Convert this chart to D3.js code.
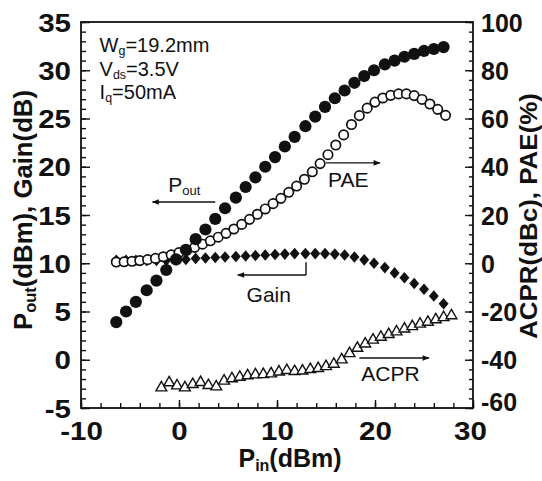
<!DOCTYPE html>
<html><head><meta charset="utf-8">
<script src="https://cdn.jsdelivr.net/npm/d3@7"></script>
<style>
html,body{margin:0;padding:0;background:#fff;}
svg{display:block;font-family:"Liberation Sans",Arial,sans-serif;}
</style></head>
<body>
<svg id="chart" width="542" height="481"></svg>
<script>
// ---- data ----
const PIN = [-6.4,-5.4,-4.4,-3.3,-2.3,-1.3,-0.3,0.7,1.7,2.7,3.7,4.7,5.8,6.8,7.8,8.8,9.8,10.8,11.8,12.9,13.9,14.9,15.9,16.9,17.9,18.9,19.9,21.0,22.0,23.0,24.0,25.0,26.0,27.0];
const POUT = [3.9,5.0,6.0,7.2,8.2,9.3,10.4,11.4,12.5,13.5,14.6,15.7,16.8,17.9,18.9,20.0,21.0,22.1,23.1,24.2,25.2,26.2,27.1,27.9,28.7,29.4,30.0,30.6,31.0,31.4,31.7,32.0,32.2,32.4];
const GAIN = [10.3,10.3,10.3,10.3,10.3,10.3,10.35,10.4,10.5,10.55,10.6,10.65,10.7,10.75,10.8,10.85,10.9,10.95,11.0,11.0,11.0,11.0,10.95,10.85,10.65,10.35,10.0,9.55,9.0,8.5,7.9,7.3,6.6,5.8];
const PIN_PAE = [-6.4,-5.6,-4.8,-4.0,-3.2,-2.4,-1.6,-0.8,0.0,0.8,1.6,2.4,3.2,4.0,4.8,5.6,6.4,7.2,8.0,8.8,9.6,10.4,11.2,12.0,12.8,13.6,14.4,15.2,16.0,16.8,17.6,18.4,19.2,20.0,20.8,21.6,22.4,23.2,24.0,24.8,25.6,26.4,27.2];
const PAE = [0.5,0.6,0.8,1.1,1.5,2.0,2.7,3.5,4.4,5.4,6.6,7.9,9.3,10.8,12.4,14.2,16.1,18.2,20.3,22.5,24.7,26.9,29.4,32.0,34.8,37.9,41.3,45.0,49.0,53.2,57.5,61.2,64.3,66.8,68.5,69.6,70.2,70.2,69.5,67.9,66.0,63.8,61.3];
const PIN_ACPR = [-1.8,-1.0,-0.2,0.6,1.4,2.2,3.0,3.8,4.6,5.4,6.2,7.0,7.8,8.6,9.4,10.2,11.0,11.8,12.6,13.4,14.2,15.0,15.8,16.6,17.4,18.2,19.0,19.8,20.6,21.4,22.2,23.0,23.8,24.6,25.4,26.2,27.0,27.8];
const ACPR = [-51.4,-49.3,-50.6,-51.4,-50.0,-49.2,-50.4,-51.0,-48.6,-47.6,-47.0,-46.4,-46.0,-45.9,-45.6,-44.8,-44.2,-44.6,-44.4,-43.8,-43.4,-42.6,-41.6,-39.8,-37.2,-35.0,-33.2,-31.6,-30.4,-29.3,-28.2,-27.0,-26.0,-25.0,-24.2,-23.2,-22.3,-21.5];

const X_TICKS = [-10,0,10,20,30];
const X_MINOR = d3.range(-10,30.1,2);
const YL_TICKS = [-5,0,5,10,15,20,25,30,35];
const YL_MINOR = d3.range(-5,35.1,1);
const YR_TICKS = [-60,-40,-20,0,20,40,60,80,100];
const YR_MINOR = d3.range(-60,100.1,4);

// ---- layout ----
const L = 81, R = 473, T = 22, B = 408;
const svg = d3.select("#chart");
const x = d3.scaleLinear().domain([-10,30]).range([L,R]);
const yL = d3.scaleLinear().domain([-5,35]).range([B,T]);
const yR = d3.scaleLinear().domain([-60,100]).range([B,T]);
const fmt = d => String(d);

// frame
svg.append("rect").attr("x",L).attr("y",T).attr("width",R-L).attr("height",B-T)
  .attr("fill","none").attr("stroke","#111").attr("stroke-width",1.8);

function styleAxis(g){
  g.select(".domain").remove();
  g.selectAll("line").attr("stroke","#111").attr("stroke-width",1.4);
  g.selectAll("text").attr("fill","#111");
}
function stretch(g, f){
  g.selectAll("text").each(function(){
    const w = this.getComputedTextLength();
    d3.select(this).attr("textLength", w*f).attr("lengthAdjust","spacingAndGlyphs");
  });
}
// minor ticks
svg.append("g").attr("transform",`translate(${L},0)`)
  .call(d3.axisLeft(yL).tickValues(YL_MINOR).tickSize(-5).tickFormat("")).call(styleAxis);
svg.append("g").attr("transform",`translate(0,${B})`)
  .call(d3.axisBottom(x).tickValues(X_MINOR).tickSize(-5).tickFormat("")).call(styleAxis);
svg.append("g").attr("transform",`translate(${R},0)`)
  .call(d3.axisRight(yR).tickValues(YR_MINOR).tickSize(-4).tickFormat("")).call(styleAxis);
// major ticks + labels
const gl = svg.append("g").attr("transform",`translate(${L},0)`)
  .call(d3.axisLeft(yL).tickValues(YL_TICKS).tickSize(-9).tickPadding(10).tickFormat(fmt));
gl.call(styleAxis).selectAll("text").attr("font-size",25).attr("font-weight","bold")
  .attr("font-family","Liberation Sans, Arial").attr("dy","0.36em");
stretch(gl,1.18);
const gb = svg.append("g").attr("transform",`translate(0,${B})`)
  .call(d3.axisBottom(x).tickValues(X_TICKS).tickSize(-8).tickPadding(14).tickFormat(fmt));
gb.call(styleAxis).selectAll("text").attr("font-size",25).attr("font-weight","bold")
  .attr("font-family","Liberation Sans, Arial");
stretch(gb,1.18);
const gr = svg.append("g").attr("transform",`translate(${R},0)`)
  .call(d3.axisRight(yR).tickValues(YR_TICKS).tickSize(-8).tickPadding(8).tickFormat(fmt));
gr.call(styleAxis).selectAll("text").attr("font-size",25).attr("font-weight","bold")
  .attr("font-family","Liberation Sans, Arial").attr("dy","0.36em");
gr.selectAll("text").filter(d=>d===-60).attr("dy","0.1em");
gb.selectAll("text").filter(d=>d===30).attr("dx","-3");

// ---- series ----
const gainPts = PIN.map((p,i)=>({x:p,y:GAIN[i]}));
const poutPts = PIN.map((p,i)=>({x:p,y:POUT[i]}));
const paePts = PIN_PAE.map((p,i)=>({x:p,y:PAE[i]}));
const acprPts = PIN_ACPR.map((p,i)=>({x:p,y:ACPR[i]}));

svg.append("g").selectAll("path").data(gainPts).join("path")
  .attr("transform",d=>`translate(${x(d.x)},${yL(d.y)})`)
  .attr("d","M0,-5.8L5,0L0,5.8L-5,0Z").attr("fill","#111");
svg.append("g").selectAll("circle").data(paePts).join("circle")
  .attr("cx",d=>x(d.x)).attr("cy",d=>yR(d.y)).attr("r",4.7)
  .attr("fill","#fff").attr("stroke","#111").attr("stroke-width",1.7);
svg.append("g").selectAll("circle").data(poutPts).join("circle")
  .attr("cx",d=>x(d.x)).attr("cy",d=>yL(d.y)).attr("r",6.1).attr("fill","#111");
svg.append("g").selectAll("path").data(acprPts).join("path")
  .attr("transform",d=>`translate(${x(d.x)},${yR(d.y)})`)
  .attr("d","M0,-5.8L5.4,3.6L-5.4,3.6Z").attr("fill","#fff").attr("stroke","#111").attr("stroke-width",1.4);

// ---- annotations ----
const defs = svg.append("defs");
defs.append("marker").attr("id","ah").attr("viewBox","0 0 10 10").attr("refX",9).attr("refY",5)
  .attr("markerWidth",9).attr("markerHeight",7).attr("orient","auto").attr("markerUnits","userSpaceOnUse")
  .append("path").attr("d","M0,1L10,5L0,9Z").attr("fill","#111");

function label(parts, px, py, size){
  const t = svg.append("text").attr("x",x(px)).attr("y",yL(py)).attr("font-size",size).attr("fill","#111");
  parts.forEach(p=>{
    const s = t.append("tspan").text(p[0]);
    if(p[1]) s.attr("font-size",size*0.62).attr("baseline-shift","-25%");
  });
  return t;
}
function arrow(x1,y1,x2,y2){
  svg.append("line").attr("x1",x(x1)).attr("y1",yL(y1)).attr("x2",x(x2)).attr("y2",yL(y2))
    .attr("stroke","#111").attr("stroke-width",1.4).attr("marker-end","url(#ah)");
}
label([["W"],["g",1],["=19.2mm"]], -8.1, 31.9, 20);
label([["V"],["ds",1],["=3.5V"]], -8.1, 29.4, 20);
label([["I"],["q",1],["=50mA"]], -8.1, 27.0, 20);

label([["P"],["out",1]], -1.1, 17.4, 21);
arrow(3.7,16.35,-2.7,16.35);
label([["PAE"]], 15.2, 17.9, 21);
arrow(15.0,20.4,20.5,20.4);
label([["Gain"]], 6.9, 6.0, 21);
svg.append("line").attr("x1",x(12.96)).attr("y1",yL(10.1)).attr("x2",x(12.96)).attr("y2",yL(8.78))
  .attr("stroke","#111").attr("stroke-width",1.4);
arrow(12.96,8.78,6.0,8.78);
label([["ACPR"]], 18.6, -2.2, 21);
arrow(18.4,0.18,25.5,0.18);

// ---- axis titles ----
const tl = svg.append("text").attr("transform",`translate(32,210) rotate(-90)`)
  .attr("text-anchor","middle").attr("font-size",25).attr("font-weight","bold").attr("fill","#111")
  .attr("textLength",240).attr("lengthAdjust","spacingAndGlyphs");
tl.append("tspan").text("P");
tl.append("tspan").text("out").attr("font-size",16).attr("baseline-shift","-25%");
tl.append("tspan").text("(dBm), Gain(dB)");

svg.append("text").attr("transform",`translate(537,216) rotate(-90)`)
  .attr("text-anchor","middle").attr("font-size",24).attr("font-weight","bold").attr("fill","#111")
  .attr("textLength",246).attr("lengthAdjust","spacingAndGlyphs")
  .text("ACPR(dBc), PAE(%)");

const tb = svg.append("text").attr("x",290).attr("y",467).attr("text-anchor","middle")
  .attr("font-size",25).attr("font-weight","bold").attr("fill","#111");
tb.append("tspan").text("P");
tb.append("tspan").text("in").attr("font-size",16).attr("baseline-shift","-25%");
tb.append("tspan").text("(dBm)");
</script>
</body></html>
